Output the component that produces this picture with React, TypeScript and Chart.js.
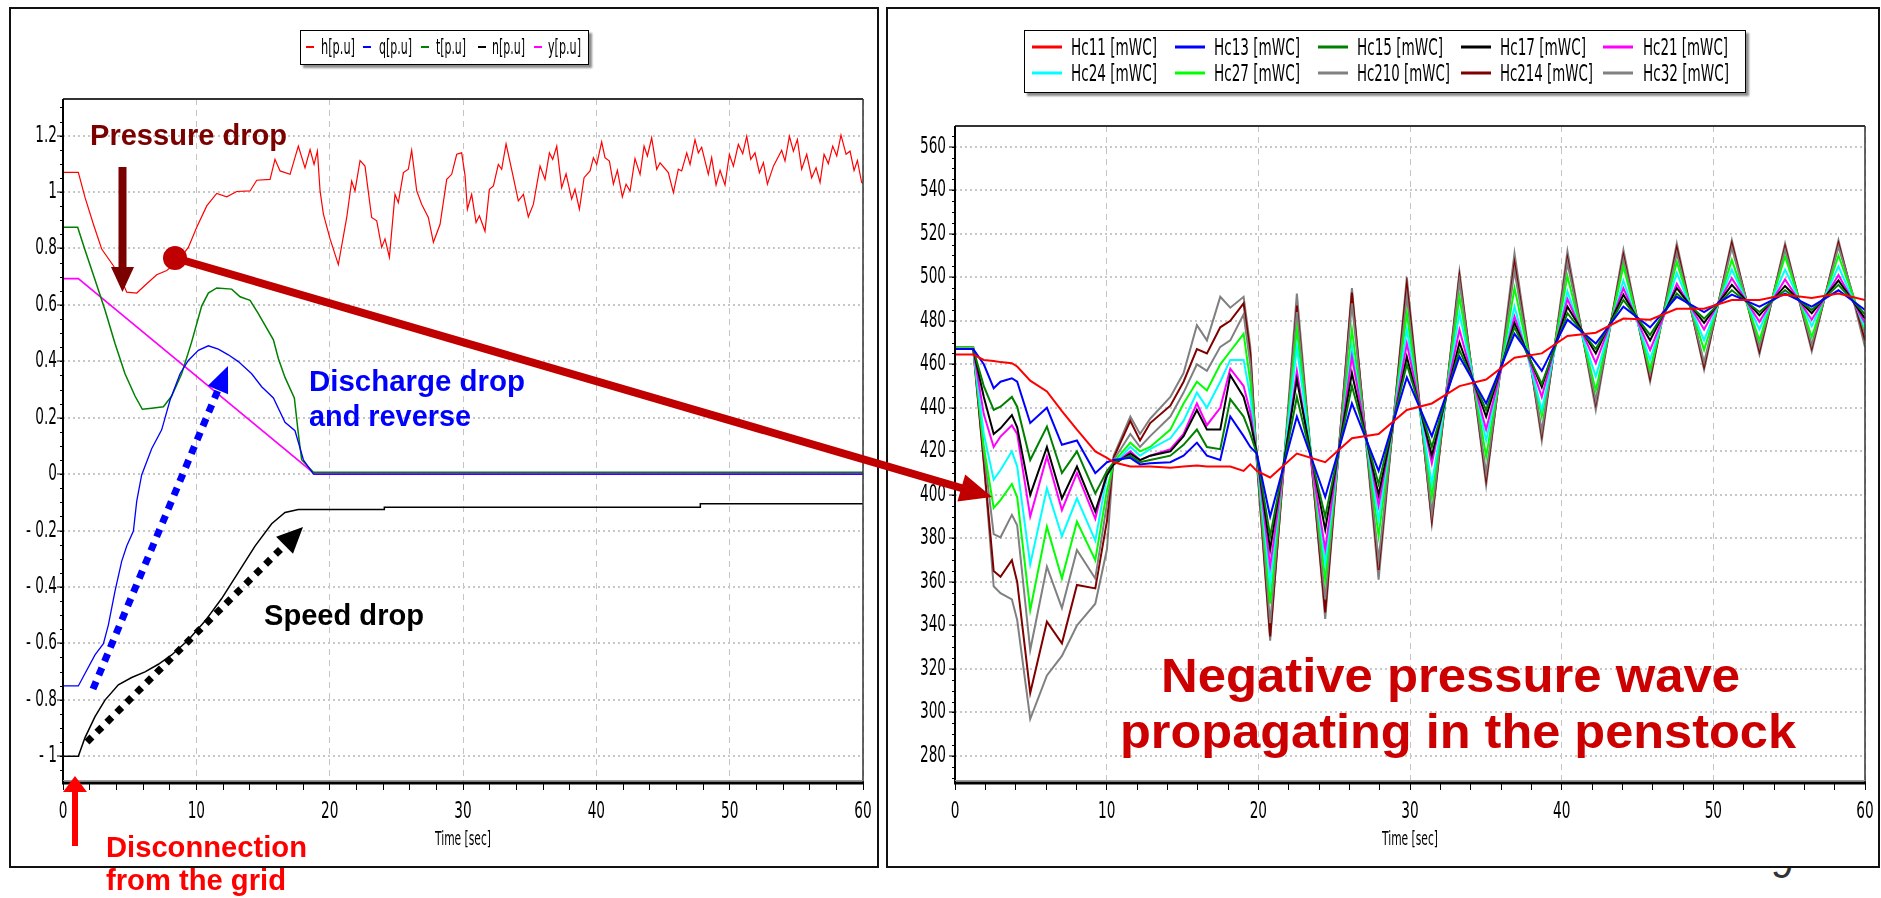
import React, { useEffect, useRef } from "react";
import { Chart, registerables } from "chart.js";

Chart.register(...registerables);

// ---------------- Left chart data (per-unit values vs time in seconds) ----------------
const hTime = [0,1.15,1.65,2.28,2.9,3.78,4.4,4.78,5.53,6.28,7.03,7.78,8.53,9.4,10.03,10.78,11.53,12.28,13.03,14.03,14.53,15.53,15.9,16.28,17.03,17.65,18.15,18.53,18.83,19.08,19.28,19.53,20.03,20.65,21.28,21.65,21.9,22.28,22.65,23.15,23.53,23.9,24.15,24.48,24.9,25.15,25.53,25.9,26.15,26.53,26.9,27.4,27.78,28.28,28.78,29.15,29.53,29.9,30.15,30.33,30.65,30.98,31.23,31.65,31.98,32.28,32.65,32.9,33.23,33.78,34.15,34.53,34.9,35.28,35.78,36.15,36.48,36.73,37.03,37.4,37.73,38.15,38.4,38.73,39.08,39.53,39.78,40.03,40.4,40.65,40.98,41.28,41.58,41.95,42.23,42.53,42.9,43.28,43.58,43.83,44.15,44.53,44.78,45.4,45.78,46.15,46.4,46.78,47.03,47.4,47.65,47.9,48.4,48.65,48.98,49.28,49.65,49.98,50.28,50.65,50.98,51.28,51.58,51.9,52.23,52.53,52.83,53.28,53.9,54.15,54.48,54.78,55.08,55.4,55.78,56.15,56.48,56.78,57.08,57.4,57.73,58.03,58.35,58.73,59.03,59.33,59.58,59.9,60];
const hVal = [1.07,1.07,0.981,0.886,0.798,0.739,0.687,0.645,0.642,0.675,0.707,0.722,0.751,0.804,0.875,0.951,0.995,0.983,1.002,1.004,1.042,1.045,1.116,1.075,1.063,1.163,1.086,1.151,1.098,1.145,1.004,0.922,0.834,0.743,0.91,1.039,1.004,1.112,1.092,0.91,0.898,0.804,0.834,0.769,0.992,0.963,1.069,1.081,1.148,1.004,0.957,0.91,0.822,0.886,1.045,1.063,1.134,1.139,1.06,0.939,0.992,0.892,0.916,0.861,1.01,1.022,1.098,1.081,1.171,1.051,0.969,0.992,0.912,0.957,1.092,1.045,1.139,1.116,1.163,1.016,1.065,0.975,1.01,0.939,1.051,1.075,1.122,1.098,1.178,1.122,1.11,1.028,1.077,0.983,1.028,1.004,1.119,1.063,1.163,1.128,1.192,1.081,1.104,1.069,0.998,1.081,1.075,1.139,1.098,1.186,1.139,1.159,1.063,1.122,1.025,1.077,1.025,1.134,1.092,1.169,1.136,1.198,1.116,1.139,1.069,1.104,1.028,1.092,1.148,1.11,1.198,1.145,1.186,1.081,1.134,1.051,1.086,1.034,1.134,1.101,1.163,1.128,1.202,1.134,1.145,1.077,1.112,1.034,1.03];

const qTime = [0,1.15,1.65,2.4,3.03,3.4,3.9,4.4,4.78,5.28,5.53,5.9,6.65,7.4,8.03,8.78,9.4,10.15,10.9,11.65,12.4,13.15,14.15,14.9,15.78,16.65,17.4,18.03,18.78,60];
const qVal = [-0.751,-0.751,-0.707,-0.641,-0.601,-0.535,-0.415,-0.309,-0.255,-0.202,-0.096,-0.003,0.09,0.157,0.263,0.356,0.403,0.439,0.455,0.443,0.423,0.399,0.356,0.31,0.27,0.184,0.154,0.051,0,0];

const tTime = [0,1.1,1.65,2.4,3.15,3.9,4.65,5.4,5.95,6.65,7.53,8.15,8.9,9.65,10.4,10.9,11.53,12.65,13.28,14.03,14.65,15.78,16.15,16.65,17.35,17.65,17.9,18.78,60];
const tVal = [0.875,0.875,0.795,0.689,0.582,0.463,0.356,0.277,0.23,0.234,0.239,0.277,0.356,0.469,0.596,0.642,0.66,0.656,0.629,0.616,0.569,0.476,0.41,0.343,0.27,0.144,0.051,0.007,0.007];

const nTime = [0,1.15,1.65,2.4,3.15,4.15,5.15,6.15,7.15,8.15,9.4,10.65,11.9,13.15,14.4,15.65,16.65,17.65,24.1,24.1,47.8,47.8,60];
const nVal = [-1,-1,-0.934,-0.86,-0.801,-0.747,-0.721,-0.701,-0.674,-0.641,-0.588,-0.521,-0.441,-0.348,-0.255,-0.176,-0.136,-0.125,-0.125,-0.117,-0.117,-0.105,-0.105];

const yTime = [0,1.15,18.9,60];
const yVal = [0.693,0.693,0,0];

const leftNames = ["h[p.u]", "q[p.u]", "t[p.u]", "n[p.u]", "y[p.u]"];
const leftYTicks = [1.2, 1, 0.8, 0.6, 0.4, 0.2, 0, -0.2, -0.4, -0.6, -0.8, -1];
const leftYLabels = ["1.2", "1", "0.8", "0.6", "0.4", "0.2", "0", "- 0.2", "- 0.4", "- 0.6", "- 0.8", "- 1"];

// ---------------- Right chart data (mWC vs time in seconds) ----------------
const rTime = [0,1.2,1.9,2.55,3.0,3.75,4.1,4.96,6.06,7.05,8.04,9.25,10.02,10.46,11.56,12.2,12.87,14.2,15.07,15.95,16.61,17.49,18.15,19.03,19.47,19.9,20.78,22.54,24.41,26.17,27.93,29.79,31.44,33.26,35.02,36.89,38.69,40.38,42.25,44.07,45.83,47.59,49.39,51.22,53.04,54.73,56.49,58.25,60];
const hc11 = [464.5,464.5,462,461.5,461,460.5,459,452.5,447.5,438.5,430,420,417,415,413,413,413,412.5,413,413.5,413,413,413,411,414,411,408,419,415,426,428,439,442,450,453,463,465,473,474.5,481,480.5,485.5,485.5,489.5,489.5,492,490.5,492.5,489.5];
const hc13 = [467,467,460,449,452,453.6,452,433,440,423,425,410,415,416,417,414,414.5,415,418,424,418,416,436,427,422,419,390,436,399,442,411,454,427,463.5,442,474,457,480.5,469.5,486.5,477,491,484,492,486.5,492.5,486.5,494,485];
const hc15 = [467,467,450,439,440.5,445,440.5,416,431.4,410,420,400.7,411,415,418,415,416,418,423,430,422,421,444,436,428,419,381,445,390,450,405,460,422,466.5,439,477,451,483.5,467,489.5,473.5,492.5,481,494,484,494,485,496.5,483];
const hc17 = [467,467,445,428,430.6,436.7,431,400,422,398.4,413,392.3,409,414,419,416,418,420,427,439,430,430,455,445,434,419,375,453,384,456,400,463.5,418,470,436,479,449.5,486.5,465,492,471,495,479,496.5,482.5,496,483.5,498.5,481];
const hc21 = [467,467,437,422,426.8,432,428,390,417.6,393,410,389,411,414,420,416,418,421,428,442,432,440,458,450,438,419,367,457,375,463.5,395,469.5,414.5,476,430,482,445,490,460.5,495,466.5,497,476,499.5,479.5,499,480.5,501,479];
const hc24 = [467,467,428,407,411.4,420,413,368,403,381,398.4,379,409,414,422,418,421,426,434,447,440,452,462,462,445,418,359,468,368.5,468,388.5,476,405,483.5,425,486.5,439,493.5,454.5,498.5,462,502,471,503.5,476,503.5,477.5,505,477];
const hc27 = [467.5,467.5,422,394,397.6,405,399,347,385.4,361.6,387.7,370,402,415,424,420,422,430,442,452,448,460,466,474,452,418,350,476,361,476,381,483.5,399,491,417.5,495,436,500.5,448,505,457.5,507,466.5,508,471,509.5,472.5,510,476];
const hc210 = [468,468,420,382,380.5,390.8,386,328.7,367,348,374.7,361.6,396,416,428,422,427,436,447,460,457,468,471,483,460,417,341,484,352,488,370,491,391.5,498,410,503,429.5,506.5,443.5,508,455.5,511,461,513.5,468,512.5,469,514,474];
const hc214 = [467,467,415,365,362.4,370,360,309,341.7,331.8,358.6,357,388,417,434,425,433,441,452,467,465,477,480,488,465,416,335,487,346,493,365.5,496.5,388.5,500.5,407,506.5,427.5,508.5,442,510,453.5,513.5,459,515.5,466,514,467.5,515.5,471];
const hc32 = [468,468,415,358,354.8,352,342.5,297,317,326,340,350,375,418,436,428,435,445,456,478,471,491,486,491,468,415,333,492.5,343,495,361,500,387,502.5,404.5,511,425,512,439,512.5,452,515.5,457.5,517,464.5,515.5,466,517,468];

const rightNames = ["Hc11 [mWC]", "Hc13 [mWC]", "Hc15 [mWC]", "Hc17 [mWC]", "Hc21 [mWC]", "Hc24 [mWC]", "Hc27 [mWC]", "Hc210 [mWC]", "Hc214 [mWC]", "Hc32 [mWC]"];
const rightYTicks = [560, 540, 520, 500, 480, 460, 440, 420, 400, 380, 360, 340, 320, 300, 280];
const rightYLabels = ["560", "540", "520", "500", "480", "460", "440", "420", "400", "380", "360", "340", "320", "300", "280"];

// shared x axis
const xTickValues = [0,2,4,6,8,10,12,14,16,18,20,22,24,26,28,30,32,34,36,38,40,42,44,46,48,50,52,54,56,58,60];
const xLabelValues = [0, 10, 20, 30, 40, 50, 60];
const xTitle = "Time [sec]";

// ---------------- styles ----------------
const leftColors = ["#ff0000", "#0000ff", "#008000", "#000000", "#ff00ff"];
const rightColors = ["#ff0000", "#0000ff", "#008000", "#000000", "#ff00ff", "#00ffff", "#00ff00", "#808080", "#800000", "#808080"];
const NARROW = "'Liberation Sans Narrow', 'DejaVu Sans Condensed', 'Arial Narrow', sans-serif";
const BOLD = "'Liberation Sans', Arial, Helvetica, sans-serif";

const pts = (xs: number[], ys: number[]) => xs.map((x, i) => ({ x, y: ys[i] }));

// frame, minor ticks and tall narrow labels (drawn from the chart's own scales)
const framePlugin = {
  id: "frame",
  afterDraw(chart: any) {
    const { ctx, chartArea: a } = chart;
    const o = chart.options.plugins.frame || {};
    const ys = chart.scales.y;
    const xs = chart.scales.x;
    ctx.save();
    ctx.strokeStyle = "#000";
    ctx.lineWidth = 1;
    const step = o.yMinor;
    const start = Math.ceil(ys.min / step);
    const end = Math.floor(ys.max / step);
    for (let k = start; k <= end; k++) {
      const py = Math.round(ys.getPixelForValue(k * step)) + 0.5;
      ctx.beginPath();
      ctx.moveTo(a.left - 3, py);
      ctx.lineTo(a.left, py);
      ctx.stroke();
    }
    ctx.strokeStyle = "#333";
    ctx.lineWidth = 2;
    ctx.beginPath();
    ctx.moveTo(a.left, a.top);
    ctx.lineTo(a.right, a.top);
    ctx.stroke();
    ctx.lineWidth = 1.5;
    ctx.beginPath();
    ctx.moveTo(a.right, a.top);
    ctx.lineTo(a.right, a.bottom);
    ctx.stroke();
    ctx.strokeStyle = "#000";
    ctx.lineWidth = 2;
    ctx.beginPath();
    ctx.moveTo(a.left, a.top);
    ctx.lineTo(a.left, a.bottom);
    ctx.stroke();
    ctx.lineWidth = 3;
    ctx.beginPath();
    ctx.moveTo(a.left - 1, a.bottom);
    ctx.lineTo(a.right + 1, a.bottom);
    ctx.stroke();
    ctx.strokeStyle = "#9a9a9a";
    ctx.lineWidth = 1;
    ctx.beginPath();
    ctx.moveTo(a.left, a.bottom - 2.5);
    ctx.lineTo(a.right, a.bottom - 2.5);
    ctx.stroke();

    ctx.fillStyle = "#000";
    ctx.textBaseline = "middle";
    ctx.font = `23px ${NARROW}`;
    ctx.textAlign = "right";
    o.yTicks.forEach((v: number, i: number) => {
      const py = ys.getPixelForValue(v);
      ctx.save();
      ctx.translate(a.left - o.yGap, py);
      ctx.scale(0.66, 1);
      ctx.fillText(o.yLabels[i], 0, 0);
      ctx.restore();
    });
    ctx.textAlign = "center";
    xLabelValues.forEach((v) => {
      const px = xs.getPixelForValue(v);
      ctx.save();
      ctx.translate(px, a.bottom + 29);
      ctx.scale(0.66, 1);
      ctx.fillText(String(v), 0, 0);
      ctx.restore();
    });
    ctx.font = `19px ${NARROW}`;
    const w = ctx.measureText(xTitle).width;
    ctx.save();
    ctx.translate((a.left + a.right) / 2, a.bottom + 57);
    ctx.scale(56 / w, 1);
    ctx.fillText(xTitle, 0, 0);
    ctx.restore();
    ctx.restore();
  },
};

function buildConfig(p: any) {
  return {
    type: "line",
    data: { datasets: p.datasets },
    options: {
      responsive: false,
      animation: false,
      devicePixelRatio: 1,
      layout: { padding: { top: p.padTop, right: p.padRight, left: 0, bottom: 0 } },
      plugins: {
        legend: { display: false },
        tooltip: { enabled: false },
        frame: { yMinor: p.yMinor, yTicks: p.yTicks, yLabels: p.yLabels, yGap: p.yGap },
      },
      elements: { point: { radius: 0 }, line: { tension: 0 } },
      scales: {
        x: {
          type: "linear",
          min: 0,
          max: 60,
          afterBuildTicks: (s: any) => {
            s.ticks = xTickValues.map((v) => ({ value: v }));
          },
          afterFit: (s: any) => {
            s.height = 82;
            s.paddingLeft = 0;
            s.paddingRight = 0;
          },
          ticks: { display: false, autoSkip: false },
          grid: {
            color: (c: any) => (c.tick && xLabelValues.indexOf(c.tick.value) >= 0 ? "#c4c4c4" : "rgba(0,0,0,0)"),
            tickColor: "#000",
            tickLength: 7,
            lineWidth: 1,
            tickWidth: 1,
          },
          border: { display: false, dash: [6, 5] },
          title: { display: false, text: xTitle },
        },
        y: {
          type: "linear",
          min: p.yMin,
          max: p.yMax,
          afterBuildTicks: (s: any) => {
            s.ticks = p.yTicks.map((v: number) => ({ value: v }));
          },
          afterFit: (s: any) => {
            s.width = p.yAxisWidth;
            s.paddingTop = 0;
            s.paddingBottom = 0;
          },
          ticks: { display: false, autoSkip: false },
          grid: { color: "#c8c8c8", lineWidth: 2, tickColor: "#000", tickLength: 6, tickWidth: 1 },
          border: { display: false, dash: [2, 3] },
        },
      },
    },
    plugins: [framePlugin],
  };
}

function ChartCanvas({ left, top, width, height, build }: any) {
  const ref = useRef<HTMLCanvasElement>(null);
  useEffect(() => {
    const chart = new Chart(ref.current as any, build() as any);
    return () => chart.destroy();
  }, []);
  return (
    <canvas
      ref={ref}
      width={width}
      height={height}
      style={{ position: "absolute", left, top, width, height, zIndex: 2 }}
    />
  );
}

const leftLegendMarkX = [306, 363, 421, 478, 534];
const leftLegendTextX = [321, 379, 436, 492, 548];
const leftLegendTextW = [34, 33, 30, 33, 33];
const rightLegendMarkX = [1032, 1175, 1318, 1461, 1603];
const rightLegendTextX = [1071, 1214, 1357, 1500, 1643];
const rightLegendTextW = [86, 86, 86, 86, 85, 86, 86, 93, 93, 86];

export default function App() {
  const buildLeft = () =>
    buildConfig({
      datasets: [
        { label: leftNames[0], data: pts(hTime, hVal), borderColor: leftColors[0], borderWidth: 1.2 },
        { label: leftNames[1], data: pts(qTime, qVal), borderColor: leftColors[1], borderWidth: 1.3 },
        { label: leftNames[2], data: pts(tTime, tVal), borderColor: leftColors[2], borderWidth: 1.5 },
        { label: leftNames[3], data: pts(nTime, nVal), borderColor: leftColors[3], borderWidth: 1.5 },
        { label: leftNames[4], data: pts(yTime, yVal), borderColor: leftColors[4], borderWidth: 1.6 },
      ],
      yMin: -1.095,
      yMax: 1.33,
      yTicks: leftYTicks,
      yLabels: leftYLabels,
      yAxisWidth: 52,
      yGap: 6,
      padTop: 90,
      padRight: 13,
      yMinor: 0.05,
    });

  const rightSeries = [hc11, hc13, hc15, hc17, hc21, hc24, hc27, hc210, hc214, hc32];
  const buildRight = () =>
    buildConfig({
      datasets: rightSeries.map((s, i) => ({
        label: rightNames[i],
        data: pts(rTime, s),
        borderColor: rightColors[i],
        borderWidth: 2,
      })),
      yMin: 267.6,
      yMax: 569.5,
      yTicks: rightYTicks,
      yLabels: rightYLabels,
      yAxisWidth: 67,
      yGap: 9,
      padTop: 117,
      padRight: 13,
      yMinor: 5,
    });

  const txt = { fontFamily: BOLD, fontWeight: 700 as any };
  const leg = { fontFamily: NARROW, fill: "#000", lengthAdjust: "spacingAndGlyphs" as any };

  return (
    <div style={{ position: "fixed", left: 0, top: 0, width: 1881, height: 898, background: "#fff", overflow: "hidden" }}>
      <svg width={1881} height={898} style={{ position: "absolute", left: 0, top: 0, zIndex: 0 }}>
        <text x={1771} y={878} fontFamily={BOLD} fontSize={40} fill="#333">9</text>
      </svg>
      <div style={{ position: "absolute", left: 9, top: 7, width: 870, height: 861, border: "2px solid #111", boxSizing: "border-box", background: "#fff", zIndex: 1 }} />
      <div style={{ position: "absolute", left: 886, top: 7, width: 994, height: 861, border: "2px solid #111", boxSizing: "border-box", background: "#fff", zIndex: 1 }} />

      <ChartCanvas left={11} top={9} width={865} height={856} build={buildLeft} />
      <ChartCanvas left={888} top={9} width={990} height={856} build={buildRight} />

      <div style={{ position: "absolute", left: 300, top: 30, width: 289, height: 35, border: "1.5px solid #000", boxSizing: "border-box", background: "#fff", boxShadow: "3px 3px 2px rgba(0,0,0,0.45)", zIndex: 3 }} />
      <div style={{ position: "absolute", left: 1024, top: 30, width: 722, height: 63, border: "1.5px solid #000", boxSizing: "border-box", background: "#fff", boxShadow: "3px 3px 2px rgba(0,0,0,0.45)", zIndex: 3 }} />

      <svg width={1881} height={120} style={{ position: "absolute", left: 0, top: 0, zIndex: 4 }}>
        {leftNames.map((n, i) => (
          <g key={n}>
            <rect x={leftLegendMarkX[i]} y={46} width={8} height={2} fill={leftColors[i]} />
            <text x={leftLegendTextX[i]} y={54} fontSize={21} textLength={leftLegendTextW[i]} {...leg}>{n}</text>
          </g>
        ))}
        {rightNames.map((n, i) => {
          const y = i < 5 ? 47 : 73;
          return (
            <g key={n}>
              <rect x={rightLegendMarkX[i % 5]} y={y - 1.5} width={30} height={3} fill={rightColors[i]} />
              <text x={rightLegendTextX[i % 5]} y={y + 8} fontSize={23} textLength={rightLegendTextW[i]} {...leg}>{n}</text>
            </g>
          );
        })}
      </svg>

      <svg width={1881} height={898} style={{ position: "absolute", left: 0, top: 0, zIndex: 5, pointerEvents: "none" }}>
        <line x1={122.5} y1={167} x2={122.5} y2={270} stroke="#7b0000" strokeWidth={8} />
        <polygon points="111,267 134,267 122.5,292" fill="#7b0000" />
        <line x1={175} y1={258} x2={963} y2={488.5} stroke="#c00000" strokeWidth={8} />
        <polygon points="957.4,501.4 965.2,474.6 992,497" fill="#c00000" />
        <circle cx={175} cy={258} r={12} fill="#c00000" />
        <line x1={93} y1={689} x2={218} y2={390} stroke="#0000ff" strokeWidth={7} strokeDasharray="8 7" />
        <polygon points="228.1,394.2 207.8,385.8 228,366" fill="#0000ff" />
        <line x1={87} y1={742} x2={284.6} y2={545.3} stroke="#000" strokeWidth={7} strokeDasharray="7 7" />
        <polygon points="293,553.8 276.1,536.8 303,527" fill="#000" />
        <line x1={75} y1={846} x2={75} y2={790} stroke="#ff0000" strokeWidth={6} />
        <polygon points="63,792 87,792 75,776" fill="#ff0000" />

        <text x={90} y={145} {...txt} fontSize={29} fill="#7b0000" textLength={197} lengthAdjust="spacingAndGlyphs">Pressure drop</text>
        <text x={309} y={391} {...txt} fontSize={29} fill="#0000ff" textLength={216} lengthAdjust="spacingAndGlyphs">Discharge drop</text>
        <text x={309} y={426} {...txt} fontSize={29} fill="#0000ff" textLength={162} lengthAdjust="spacingAndGlyphs">and reverse</text>
        <text x={264} y={625} {...txt} fontSize={29} fill="#000" textLength={160} lengthAdjust="spacingAndGlyphs">Speed drop</text>
        <text x={106} y={857} {...txt} fontSize={29} fill="#ff0000" textLength={201} lengthAdjust="spacingAndGlyphs">Disconnection</text>
        <text x={106} y={890} {...txt} fontSize={29} fill="#ff0000" textLength={180} lengthAdjust="spacingAndGlyphs">from the grid</text>
        <text x={1161} y={692} {...txt} fontSize={48} fill="#cc0000" textLength={579} lengthAdjust="spacingAndGlyphs">Negative pressure wave</text>
        <text x={1120} y={748} {...txt} fontSize={48} fill="#cc0000" textLength={676} lengthAdjust="spacingAndGlyphs">propagating in the penstock</text>
      </svg>
    </div>
  );
}
